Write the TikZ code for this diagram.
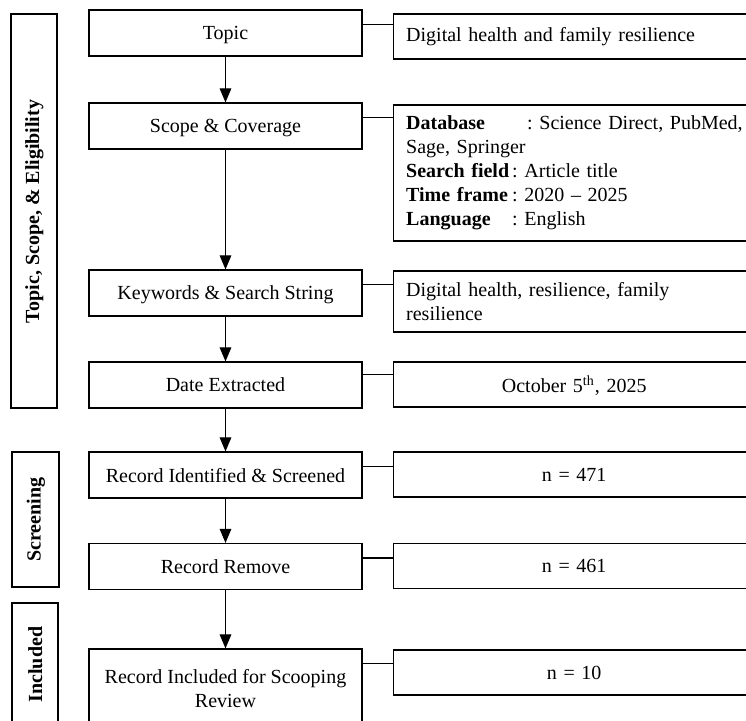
\documentclass[tikz,border=0pt]{standalone}
\usepackage{fontspec}
\setmainfont{Liberation Serif}
\usetikzlibrary{shapes,arrows}
\usetikzlibrary{positioning}
\tikzstyle{block} = [rectangle, draw, line width=0.6pt, text depth=0pt,
    minimum width=136.5pt, minimum height=23pt, align=center]
\tikzstyle{note} = [rectangle, draw, line width=0.6pt,
    text width=168pt, inner xsep=6.5pt, minimum height=22.5pt, align=left]
\tikzstyle{notec} = [note, align=center, text depth=0pt]
\tikzstyle{phase} = [rectangle, draw, line width=1pt,
    minimum width=23pt, font=\bfseries]
\tikzstyle{line} = [draw, line width=0.6pt, -triangle 45]
\tikzstyle{link} = [draw, line width=0.6pt]

\begin{document}
\frenchspacing
\begin{tikzpicture}[node distance = 2.5cm, auto]
  \useasboundingbox (-112.75pt,16.5pt) rectangle (260.25pt,-343.5pt);
  \clip (-112.75pt,16.5pt) rectangle (260.25pt,-343.5pt);
  % Place nodes
  \node [block] (topic) {Topic};
  \node [block, below of=topic, node distance=46.5pt] (scope) {Scope \& Coverage};
  \node [block, below of=scope, node distance=83.5pt] (keys) {Keywords \& Search String};
  \node [block, below of=keys, node distance=46pt] (date) {Date Extracted};
  \node [block, below of=date, node distance=45pt] (ident) {Record Identified \& Screened};
  \node [block, below of=ident, node distance=45.75pt] (removed) {Record Remove};
  \node [block, below of=removed, node distance=60.75pt, minimum height=39pt] (incl)
    {Record Included for Scooping\\Review};

  % details on the right
  \node [note, right=15pt of topic.north east, anchor=north west, yshift=-2pt] (topicr)
    {Digital health and family resilience};
  \node [note, right=15pt of scope.north east, anchor=north west, yshift=-1pt,
    minimum height=68pt] (scoper)
    {\mbox{\makebox[60.5pt][l]{\textbf{Database}}: Science Direct, PubMed,}\\
     Sage, Springer\\
     \makebox[53pt][l]{\textbf{Search field}}: Article title\\
     \makebox[53pt][l]{\textbf{Time frame}}: 2020 -- 2025\\
     \makebox[53pt][l]{\textbf{Language}}: English};
  \node [note, right=15pt of keys.north east, anchor=north west, yshift=-0.5pt,
    minimum height=30.5pt] (keysr)
    {Digital health, resilience, family\\resilience};
  \node [notec, right=15pt of date.north east, anchor=north west] (dater)
    {October 5\textsuperscript{th}, 2025};
  \node [notec, right=15pt of ident.north east, anchor=north west] (identr) {n = 471};
  \node [notec, right=15pt of removed.north east, anchor=north west] (removedr) {n = 461};
  \node [notec, right=15pt of incl.north east, anchor=north west, yshift=-0.5pt] (inclr) {n = 10};

  % phases on the left
  \node [phase, minimum height=197pt, left=15pt of topic.north west, anchor=north east,
    yshift=-2pt] (phase1) {\rotatebox{90}{Topic, Scope, \& Eligibility}};
  \node [phase, minimum height=67.5pt, minimum width=23.5pt, left=14pt of ident.north west,
    anchor=north east] (phase2) {\rotatebox{90}{Screening}};
  \node [phase, minimum height=62pt, left=14.5pt of incl.south west,
    anchor=south east] (phase3) {\rotatebox{90}{Included}};

  %paths
  \path [line] (topic) -- (scope);
  \path [line] (scope) -- (keys);
  \path [line] (keys) -- (date);
  \path [line] (date) -- (ident);
  \path [line] (ident) -- (removed);
  \path [line] (removed) -- (incl);

  \path [link] ([yshift=-7.5pt]topic.north east) coordinate (c1) -- (c1 -| topicr.west);
  \path [link] ([yshift=-7.5pt]scope.north east) coordinate (c2) -- (c2 -| scoper.west);
  \path [link] ([yshift=-7.5pt]keys.north east) coordinate (c3) -- (c3 -| keysr.west);
  \path [link] ([yshift=-6.5pt]date.north east) coordinate (c4) -- (c4 -| dater.west);
  \path [link] ([yshift=-7.5pt]ident.north east) coordinate (c5) -- (c5 -| identr.west);
  \path [link] ([yshift=-7.5pt]removed.north east) coordinate (c6) -- (c6 -| removedr.west);
  \path [link] ([yshift=-7.5pt]incl.north east) coordinate (c7) -- (c7 -| inclr.west);

\end{tikzpicture}
\end{document}
